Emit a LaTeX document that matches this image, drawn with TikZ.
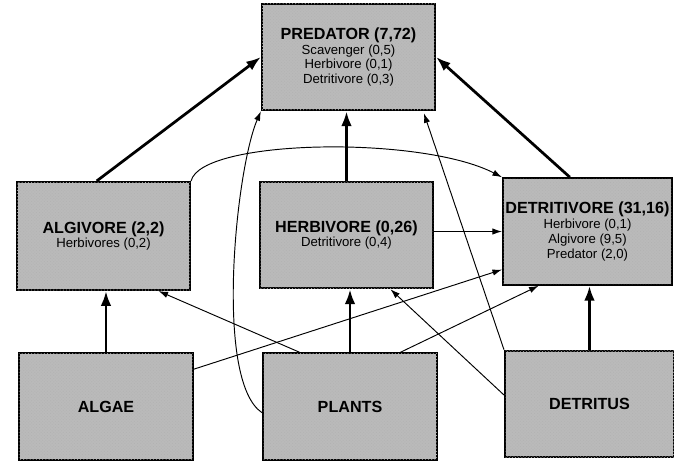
\documentclass[tikz,border=0pt]{standalone}
\usepackage{fontspec}
\setmainfont{Liberation Sans}
\usepackage{tikz}
\usetikzlibrary{patterns}
\usetikzlibrary{shapes,positioning,calc}
\usetikzlibrary{arrows.meta}
\tikzstyle{livello} = [rectangle, draw=black, line width=2pt, fill=black!27,
postaction={pattern=crosshatch dots, pattern color=black!30},
minimum width=5.77cm, minimum height=3.55cm, inner sep=1pt, align=center,
font=\fontsize{12.5}{14}\selectfont]
\tikzstyle{arrow} = [line width=0.9pt,->,>={Latex[length=9pt,width=6pt]}]
\tikzstyle{bigarrow} = [line width=2.6pt,->,>={Latex[length=14pt,width=10pt]}]
\newcommand{\titolo}[1]{{\fontsize{15.3}{16}\selectfont\bfseries #1}}

\begin{document}
\begin{tikzpicture}
						\useasboundingbox (0,0) rectangle (22.467,-15.467);
						\node (predator) at (11.617,-1.9) [livello] {\titolo{PREDATOR (7,72)}\\Scavenger (0,5)\\Herbivore (0,1)\\Detritivore (0,3)};
						\node (algivore) at (3.45,-7.867) [livello, minimum height=3.6cm] {\titolo{ALGIVORE (2,2)}\\Herbivores (0,2)};
						\node (herbivore) at (11.55,-7.833) [livello] {\titolo{HERBIVORE (0,26)}\\Detritivore (0,4)};
						\node (detritivore) at (19.583,-7.717) [livello, minimum width=5.63cm] {\titolo{DETRITIVORE (31,16)}\\Herbivore (0,1)\\Algivore (9,5)\\Predator (2,0)};
						\node (algae) at (3.533,-13.55) [livello, minimum width=5.8cm] {\titolo{ALGAE}};
						\node (plants) at (11.667,-13.55) [livello, minimum width=5.8cm] {\titolo{PLANTS}};
						\node (detritus) at (19.65,-13.467) [livello, minimum width=5.63cm] {\titolo{DETRITUS}};
						\draw[bigarrow] (algivore.97) -- (predator.west);
						\draw[bigarrow] (herbivore.north) -- (herbivore.north |- predator.south);
						\draw[bigarrow] (detritivore.108) -- (predator.east);
						\draw[bigarrow] (algae.north) -- (algae.north |- algivore.south);
						\draw[bigarrow] (plants.north) -- (plants.north |- herbivore.south);
						\draw[bigarrow] (detritus.north) -- (detritus.north |- detritivore.south);
						\draw[arrow] (algivore.north east) .. controls +(0.33,1.4) and +(-2.7,1.4) .. (detritivore.north west);
						\draw[arrow] (herbivore.east |- detritivore.west) -- (detritivore.west);
						\draw[arrow] (plants.133) -- (algivore.-45);
						\draw[arrow] (plants.184) .. controls +(-1.6,1.07) and +(-0.83,-1.9) .. (predator.south west);
						\draw[arrow] (plants.47) -- (detritivore.228);
						\draw[arrow] (algae.23) -- (detritivore.204);
						\draw[arrow] (detritus.174) -- (herbivore.-51);
						\draw[arrow, shorten >=2pt] (detritus.north west) -- (predator.-36);
					\end{tikzpicture}
\end{document}
